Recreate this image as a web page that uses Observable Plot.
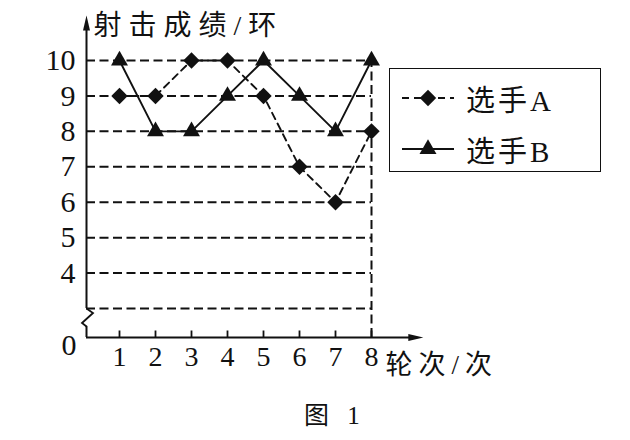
<!DOCTYPE html>
<html><head><meta charset="utf-8">
<script src="https://cdn.jsdelivr.net/npm/d3@7"></script>
<script src="https://cdn.jsdelivr.net/npm/@observablehq/plot@0.6"></script>
<style>
body{margin:0;background:#fff;}
#wrap{position:relative;width:630px;height:440px;font-family:"Liberation Serif","Noto Sans CJK SC",serif;color:#111;}
#chart{position:absolute;left:0;top:0;}
#legend{position:absolute;left:389px;top:68px;width:210px;height:102px;border:1.6px solid #111;}
.row{position:absolute;left:12px;height:30px;display:flex;align-items:center;font-size:29px;letter-spacing:3px;white-space:nowrap;}
.row svg{margin-right:12px;}
#caption{position:absolute;left:235px;width:200px;top:401px;text-align:center;font-size:25px;line-height:30px;letter-spacing:6px;white-space:pre;}
</style></head><body>
<div id="wrap"><div id="chart"></div><div id="legend"></div><div id="caption"></div></div>
<script>
// ---- data ----
const rounds = [1, 2, 3, 4, 5, 6, 7, 8];
const scoresA = [9, 9, 10, 10, 9, 7, 6, 8];
const scoresB = [10, 8, 8, 9, 10, 9, 8, 10];
const yTickValues = [4, 5, 6, 7, 8, 9, 10];
const gridValues = [3, 4, 5, 6, 7, 8, 9, 10];
const xTickValues = [1, 2, 3, 4, 5, 6, 7, 8];
const seriesNames = ["选手A", "选手B"];
const yTitle = "射击成绩/环";
const xTitle = "轮次/次";
const captionText = "图 1";

// ---- build ----
const ink = "#111";
const font = '"Liberation Serif","Noto Sans CJK SC",serif';
const dataA = rounds.map((r, i) => ({round: r, score: scoresA[i]}));
const dataB = rounds.map((r, i) => ({round: r, score: scoresB[i]}));

// axis decoration parameters (in data units)
const breakLow = 1.15, breakHigh = 3, yAxisTop = 11.27, xAxisEnd = 9.44;

const arrowUp = {draw(c){c.moveTo(0,0);c.lineTo(-3.5,15);c.lineTo(3.5,15);c.closePath();}};
const arrowRight = {draw(c){c.moveTo(0,0);c.lineTo(-15,-3.5);c.lineTo(-15,3.5);c.closePath();}};
const tickUp = {draw(c){c.moveTo(0,0);c.lineTo(0,-7);}};
const zigzag = {draw(c){c.moveTo(0,0);c.lineTo(6.5,4.5);c.lineTo(-4.5,14.5);c.lineTo(0,18);}};

const dash = "9,4.5";
const chart = Plot.plot({
  width: 630,
  height: 385,
  marginLeft: 86,
  marginTop: 0,
  marginBottom: 48,
  marginRight: 0,
  style: {background: "#fff", color: ink, fontFamily: font},
  x: {type: "linear", domain: [0, 1, 8], range: [86, 119, 371]},
  y: {type: "linear", domain: [0, 3, 10], range: [337, 308, 60]},
  marks: [
    Plot.ruleY(gridValues, {x1: 0, x2: 8, stroke: ink, strokeWidth: 2, strokeDasharray: dash}),
    Plot.ruleX([8], {y1: 0, y2: 10, stroke: ink, strokeWidth: 2, strokeDasharray: dash}),
    Plot.ruleX([0], {y1: breakHigh, y2: yAxisTop - 0.2, stroke: ink, strokeWidth: 2}),
    Plot.ruleX([0], {y1: 0, y2: breakLow, stroke: ink, strokeWidth: 2}),
    Plot.dot([breakHigh], {x: 0, y: d => d, symbol: zigzag, stroke: ink, fill: "none", strokeWidth: 1.8}),
    Plot.ruleY([0], {x1: 0, x2: xAxisEnd - 0.2, stroke: ink, strokeWidth: 2}),
    Plot.dot([yAxisTop], {x: 0, y: d => d, symbol: arrowUp, fill: ink, stroke: "none"}),
    Plot.dot([xAxisEnd], {x: d => d, y: 0, symbol: arrowRight, fill: ink, stroke: "none"}),
    Plot.dot(xTickValues, {x: d => d, y: 0, symbol: tickUp, stroke: ink, fill: "none", strokeWidth: 1.8}),
    Plot.axisY(yTickValues, {anchor: "left", tickSize: 0, tickPadding: 11, fontSize: 30, label: null, fill: ink}),
    Plot.text([0], {x: 0, y: 0, text: d => String(d), textAnchor: "end", dx: -10, dy: 8, fontSize: 30, fill: ink}),
    Plot.axisX(xTickValues, {anchor: "bottom", tickSize: 0, tickPadding: 9, fontSize: 28, label: null, fill: ink}),
    Plot.text([yTitle], {frameAnchor: "top-left", text: d => d, textAnchor: "start", lineAnchor: "middle", dx: 7, dy: 26, fontSize: 28, fill: ink}),
    Plot.text([xTitle], {x: () => 8, y: () => 0, text: d => d, textAnchor: "start", lineAnchor: "middle", dx: 14, dy: 28, fontSize: 27, fill: ink}),
    Plot.line(dataA, {x: "round", y: "score", stroke: ink, strokeWidth: 1.9, strokeDasharray: "7,5"}),
    Plot.line(dataB, {x: "round", y: "score", stroke: ink, strokeWidth: 1.9}),
    Plot.dot(dataA, {x: "round", y: "score", symbol: "diamond2", r: 7.4, fill: ink, stroke: "none"}),
    Plot.dot(dataB, {x: "round", y: "score", symbol: "triangle", r: 6.3, fill: ink, stroke: "none"})
  ]
});
d3.select(chart).selectAll("text").filter(function(){return this.textContent === yTitle;}).attr("letter-spacing", 7);
d3.select(chart).selectAll("text").filter(function(){return this.textContent === xTitle;}).attr("letter-spacing", 6);
document.getElementById("chart").appendChild(chart);

// legend
const legend = d3.select("#legend");
const legendSpecs = [
  {name: seriesNames[0], dash: "7,5", symbol: d3.symbolDiamond2, size: Math.PI * 7.4 * 7.4, top: 14},
  {name: seriesNames[1], dash: null, symbol: d3.symbolTriangle, size: Math.PI * 6.3 * 6.3, top: 65}
];
for (const s of legendSpecs) {
  const row = legend.append("div").attr("class", "row").style("top", s.top + "px");
  const svg = row.append("svg").attr("width", 52).attr("height", 22);
  svg.append("line").attr("x1", 0).attr("x2", 52).attr("y1", 11).attr("y2", 11)
    .attr("stroke", ink).attr("stroke-width", 1.9).attr("stroke-dasharray", s.dash);
  svg.append("path").attr("d", d3.symbol(s.symbol, s.size)()).attr("transform", "translate(26,11)").attr("fill", ink);
  row.append("span").text(s.name);
}
document.getElementById("caption").textContent = captionText;
</script>
</body></html>
